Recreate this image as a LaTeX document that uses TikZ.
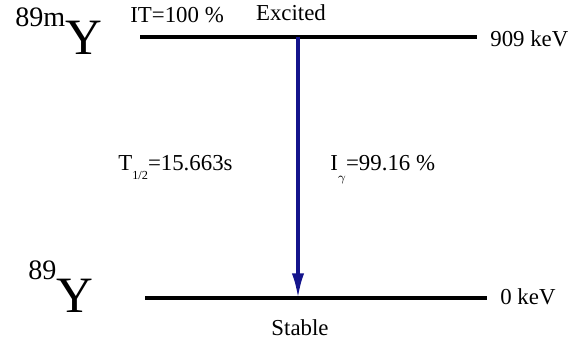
\documentclass[tikz,border=0pt]{standalone}
\usepackage{fontspec}
\setmainfont{Liberation Serif}
\usetikzlibrary{arrows.meta}
\begin{document}
\begin{tikzpicture}[x=0.02cm,y=-0.02cm,font=\fontsize{13}{15}\selectfont,
  level/.style={line width=2pt},
  trans/.style={line width=1.8pt,color=navy},
  nuc/.style={inner sep=0pt,anchor=base west}]
  \definecolor{navy}{RGB}{20,20,140}
  \useasboundingbox (0,0) rectangle (579,347);

  % 能级
  \coordinate (E1l) at (140,37);
  \coordinate (E1r) at (477,37);
  \coordinate (E0l) at (145,298);
  \coordinate (E0r) at (487,298);
  \coordinate (G1) at (298,37);
  \coordinate (G0) at (298,298);
  \draw[level] (E1l) -- (E1r);
  \draw[level] (E0l) -- (E0r);

  % 跃迁
  \draw[trans,-{Latex[length=14pt,width=7pt]}] (G1) -- (G0);

  \node[nuc] (Ym) at (15,55)
    {\raisebox{16pt}{\fontsize{16}{16}\selectfont 89m}\fontsize{29}{29}\selectfont Y};
  \node[nuc] (Yg) at (28,313)
    {\raisebox{19pt}{\fontsize{16}{16}\selectfont 89}\fontsize{29}{29}\selectfont Y};
  \node[anchor=base west,inner sep=0pt] (IT) at (130,23) {IT=100 \%};
  \node[anchor=base,inner sep=0pt] (exc) at (291,21) {Excited};
  \node[anchor=west,inner sep=0pt] (e1) at (490,39) {909 keV};
  \node[anchor=west,inner sep=0pt] (e0) at (500,297) {0 keV};
  \node[anchor=base,inner sep=0pt] (stb) at (300,336) {Stable};
  \node[anchor=base west,inner sep=0pt] (half) at (118,171)
    {T\raisebox{-5pt}{\fontsize{7}{8}\selectfont 1/2}=15.663s};
  \node[anchor=base west,inner sep=0pt] (Ig) at (330,171)
    {I\raisebox{-6pt}{\fontsize{7}{8}\selectfont $\gamma$}=99.16 \%};
\end{tikzpicture}
\end{document}
